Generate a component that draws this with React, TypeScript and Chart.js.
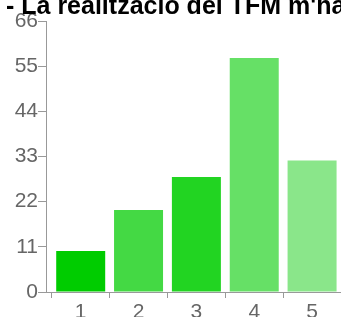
import React, { useEffect, useRef } from 'react';
import { Chart, registerables } from 'chart.js';

Chart.register(...registerables);

const titleText = "- La realització del TFM m'ha";
const categories = ['1', '2', '3', '4', '5'];
const values = [10, 20, 28, 57, 32];
const barColors = ['#00cc00', '#44d944', '#22d422', '#66e066', '#8ae68a'];
const yTicks = [0, 11, 22, 33, 44, 55, 66];

const FONT = '"Liberation Sans", Arial, sans-serif';

export default function App() {
  const ref = useRef<HTMLCanvasElement | null>(null);

  useEffect(() => {
    if (!ref.current) return;
    const titlePlugin = {
      id: 'clippedTitle',
      afterDraw(chart: any) {
        const ctx = chart.ctx;
        ctx.save();
        ctx.font = `bold 25px ${FONT}`;
        ctx.fillStyle = '#000';
        ctx.textBaseline = 'alphabetic';
        ctx.textAlign = 'left';
        ctx.fillText(titleText, 6, 14);
        ctx.restore();
      },
    };
    const chart = new Chart(ref.current, {
      type: 'bar',
      data: {
        datasets: [
          {
            data: categories.map((c, i) => ({ x: Number(c), y: values[i] })),
            backgroundColor: barColors,
            borderWidth: 0,
            barPercentage: 0.847,
            categoryPercentage: 1,
          },
        ],
      },
      options: {
        responsive: false,
        animation: false,
        layout: { padding: { top: 21, left: 0, right: 0, bottom: 0 } },
        plugins: {
          legend: { display: false },
          tooltip: { enabled: false },
          title: { display: false },
        },
        scales: {
          x: {
            type: 'linear',
            min: 0.4,
            max: 5.5,
            offset: false,
            afterBuildTicks: (s: any) => {
              s.ticks = categories.map((c) => ({ value: Number(c) }));
            },
            afterFit: (s: any) => {
              s.height = 25;
            },
            grid: { drawOnChartArea: false, tickLength: 6, color: '#999', lineWidth: 1 },
            border: { color: '#999', width: 1 },
            ticks: {
              padding: 2,
              color: '#666',
              font: { size: 21, family: FONT },
              callback: (v: any) => categories[categories.indexOf(String(v))] ?? '',
            },
          },
          y: {
            min: 0,
            max: 66,
            afterBuildTicks: (s: any) => {
              s.ticks = yTicks.map((v) => ({ value: v }));
            },
            afterFit: (s: any) => {
              s.width = 46;
            },
            grid: { drawOnChartArea: false, tickLength: 8, color: '#999', lineWidth: 1 },
            border: { color: '#999', width: 1 },
            ticks: {
              padding: 0,
              color: '#666',
              font: { size: 21, family: FONT },
            },
          },
        },
      },
      plugins: [titlePlugin],
    } as any);
    return () => chart.destroy();
  }, []);

  return (
    <div style={{ position: 'fixed', left: 0, top: 0, width: 341, height: 317, overflow: 'hidden', background: '#fff' }}>
      <canvas ref={ref} width={341} height={317} style={{ width: 341, height: 317, display: 'block' }} />
    </div>
  );
}
